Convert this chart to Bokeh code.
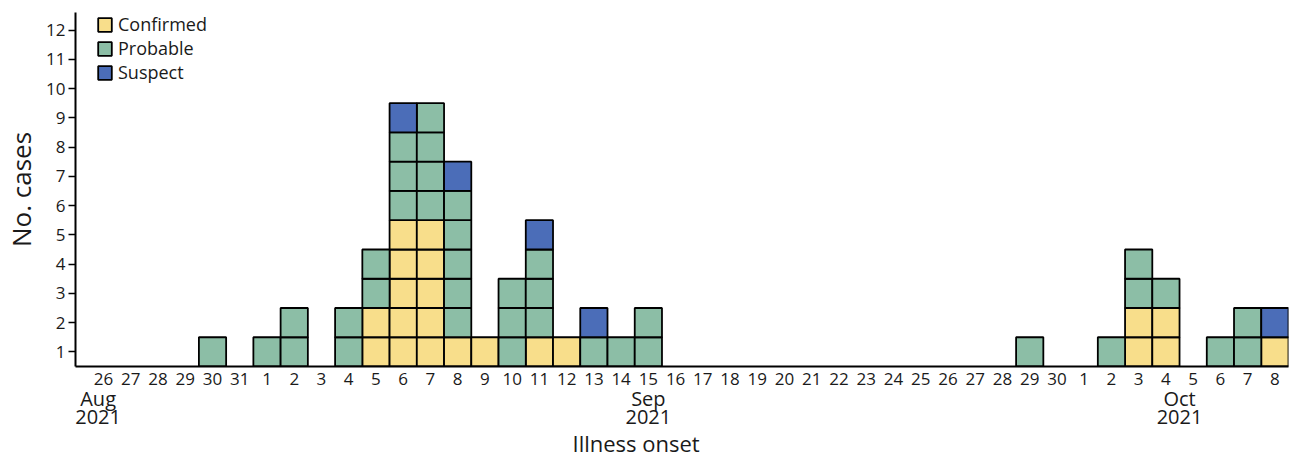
from bokeh.plotting import figure
from bokeh.models import (FixedTicker, LinearAxis, Range1d, Legend, LegendItem,
                          Title, ColumnDataSource)
from bokeh.embed import file_html
from bokeh.resources import INLINE

# ---------------- data ----------------
day_labels = ["26", "27", "28", "29", "30", "31",
              "1", "2", "3", "4", "5", "6", "7", "8", "9", "10", "11", "12", "13", "14", "15",
              "16", "17", "18", "19", "20", "21", "22", "23", "24", "25", "26", "27", "28", "29", "30",
              "1", "2", "3", "4", "5", "6", "7", "8"]

confirmed = [0, 0, 0, 0, 0, 0,
             0, 0, 0, 0, 2, 5, 5, 1, 1, 0, 1, 1, 0, 0, 0,
             0, 0, 0, 0, 0, 0, 0, 0, 0, 0, 0, 0, 0, 0, 0,
             0, 0, 2, 2, 0, 0, 0, 1]
probable = [0, 0, 0, 0, 1, 0,
            1, 2, 0, 2, 2, 3, 4, 5, 0, 3, 3, 0, 1, 1, 2,
            0, 0, 0, 0, 0, 0, 0, 0, 0, 0, 0, 0, 0, 1, 0,
            0, 1, 2, 1, 0, 1, 2, 0]
suspect = [0, 0, 0, 0, 0, 0,
           0, 0, 0, 0, 0, 1, 0, 1, 0, 0, 1, 0, 1, 0, 0,
           0, 0, 0, 0, 0, 0, 0, 0, 0, 0, 0, 0, 0, 0, 0,
           0, 0, 0, 0, 0, 0, 0, 1]

series_names = ["Confirmed", "Probable", "Suspect"]
series_colors = ["#F8DE8B", "#8CBEA6", "#4B6DB8"]

month_labels = ["Aug", "Sep", "Oct"]
year_labels = ["2021", "2021", "2021"]
month_anchor = [-0.2, 20, 39.5]   # day index under which each month label sits

y_ticks = [1, 2, 3, 4, 5, 6, 7, 8, 9, 10, 11, 12]

FONT = "Open Sans"
TXT = "#1a1a1a"

# ---------------- expand counts into unit squares ----------------
n = len(day_labels)
cells = {name: {"x": [], "y": []} for name in series_names}
for i in range(n):
    base = 0
    for name, vals in zip(series_names, [confirmed, probable, suspect]):
        for k in range(vals[i]):
            cells[name]["x"].append(i)
            cells[name]["y"].append(base + k + 1)
        base += vals[i]

# ---------------- figure ----------------
p = figure(frame_width=1213, frame_height=354,
           x_range=Range1d(-1.03, 43.5), y_range=Range1d(0.5, 12.6),
           output_backend="svg", toolbar_location=None,
           min_border_left=72, min_border_top=12, min_border_right=8, min_border_bottom=0)
p.outline_line_color = None
p.xgrid.grid_line_color = None
p.ygrid.grid_line_color = None
p.background_fill_color = "white"
p.border_fill_color = "white"

renderers = []
for name, col in zip(series_names, series_colors):
    src = ColumnDataSource(cells[name])
    r = p.rect(x="x", y="y", width=1, height=1, source=src,
               fill_color=col, line_color="black", line_width=1.8)
    renderers.append(r)

# y axis
ya = p.yaxis[0]
ya.ticker = FixedTicker(ticks=y_ticks)
ya.axis_line_width = 2
ya.axis_line_color = "black"
ya.major_tick_line_width = 1.5
ya.major_tick_line_color = "black"
ya.major_tick_out = 7
ya.major_tick_in = 0
ya.minor_tick_line_color = None
ya.major_label_text_font = FONT
ya.major_label_text_font_size = "17px"
ya.major_label_text_color = TXT
ya.major_label_standoff = 3
ya.axis_label = "No. cases"
ya.axis_label_text_font = FONT
ya.axis_label_text_font_size = "26px"
ya.axis_label_text_font_style = "normal"
ya.axis_label_text_color = TXT
ya.axis_label_standoff = 4

# x axis: days
xa = p.xaxis[0]
xa.ticker = FixedTicker(ticks=list(range(n)))
xa.major_label_overrides = {i: lab for i, lab in enumerate(day_labels)}
xa.axis_line_width = 2
xa.axis_line_color = "black"
xa.major_tick_line_color = None
xa.major_tick_out = 0
xa.major_tick_in = 0
xa.minor_tick_line_color = None
xa.major_label_text_font = FONT
xa.major_label_text_font_size = "17px"
xa.major_label_text_color = TXT
xa.major_label_standoff = 6


def text_axis(labels, standoff):
    ax = LinearAxis(ticker=FixedTicker(ticks=month_anchor),
                    major_label_overrides={v: lab for v, lab in zip(month_anchor, labels)})
    ax.axis_line_color = None
    ax.major_tick_line_color = None
    ax.minor_tick_line_color = None
    ax.major_tick_out = 0
    ax.major_tick_in = 0
    ax.major_label_standoff = standoff
    ax.major_label_text_font = FONT
    ax.major_label_text_font_size = "20px"
    ax.major_label_text_color = TXT
    return ax


p.add_layout(text_axis(month_labels, -3), "below")
p.add_layout(text_axis(year_labels, -5), "below")

p.add_layout(Title(text="Illness onset", align="left", offset=497,
                   text_font=FONT, text_font_size="22px", text_font_style="normal",
                   text_color=TXT, standoff=-1), "below")

legend = Legend(items=[LegendItem(label=nm, renderers=[r]) for nm, r in zip(series_names, renderers)],
                location=(21, 282), padding=0, margin=0, spacing=-1,
                glyph_width=17, glyph_height=17, label_standoff=5,
                label_text_font=FONT, label_text_font_size="18px", label_text_color=TXT,
                label_height=17, border_line_alpha=0, background_fill_alpha=0)
p.add_layout(legend)

open("out.html", "w").write(file_html(p, INLINE))
